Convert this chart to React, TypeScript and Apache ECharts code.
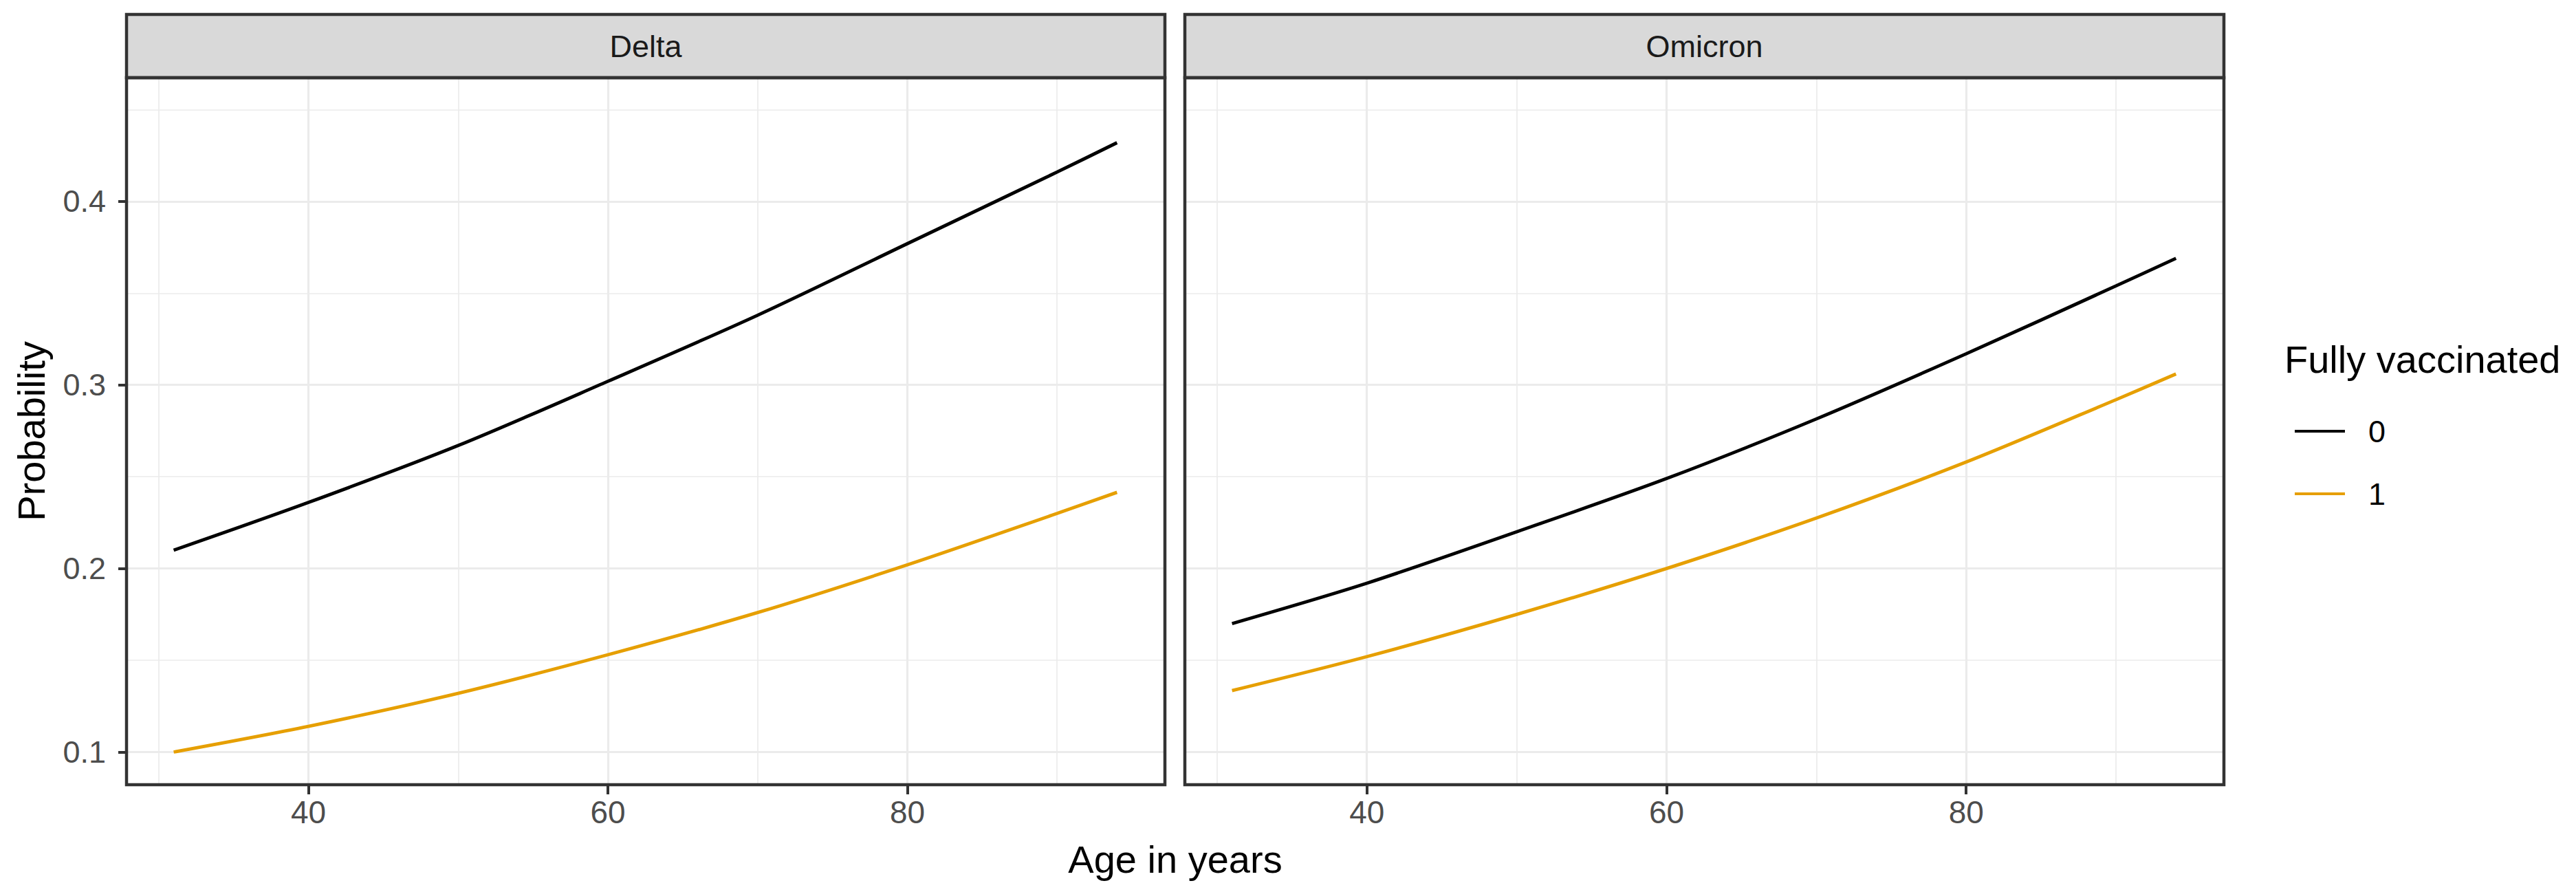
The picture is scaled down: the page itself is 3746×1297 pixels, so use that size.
import React, { useEffect, useRef } from "react";
import * as echarts from "echarts";

// ---- data ----
const ages = [31, 40, 50, 60, 70, 80, 90, 94];
const panels = ["Delta", "Omicron"];
const groups = ["0", "1"];
const deltaUnvaccinated = [0.21, 0.236, 0.267, 0.302, 0.338, 0.377, 0.416, 0.432];
const deltaVaccinated = [0.1, 0.114, 0.132, 0.153, 0.176, 0.202, 0.23, 0.2415];
const omicronUnvaccinated = [0.17, 0.192, 0.22, 0.249, 0.2815, 0.317, 0.354, 0.369];
const omicronVaccinated = [0.1335, 0.152, 0.175, 0.2, 0.2275, 0.258, 0.292, 0.306];
const xTicks = [40, 60, 80];
const xMinor = [30, 50, 70, 90];
const yTicks = [0.1, 0.2, 0.3, 0.4];
const yMinor = [0.15, 0.25, 0.35, 0.45];

const colors = ["#000000", "#E69F00"];
const FONT = "Liberation Sans, Arial, Helvetica, sans-serif";

export default function App() {
  const ref = useRef<HTMLDivElement>(null);
  useEffect(() => {
    if (!ref.current) return;
    const chart = echarts.init(ref.current, null, { renderer: "svg" });

    const PT = 113;
    const PH = 1028;
    const panelBoxes = [
      { left: 184, width: 1510 },
      { left: 1723, width: 1511 },
    ];
    const STRIP_TOP = 21;

    const seriesData = [
      [deltaUnvaccinated, deltaVaccinated],
      [omicronUnvaccinated, omicronVaccinated],
    ];

    const grid = panelBoxes.map((b) => ({
      left: b.left,
      top: PT,
      width: b.width,
      height: PH,
      show: false,
      containLabel: false,
    }));

    const xAxis = panelBoxes.map((_, i) => ({
      type: "value",
      gridIndex: i,
      min: 27.85,
      max: 97.2,
      axisLine: { show: false },
      splitLine: { show: false },
      axisTick: {
        show: true,
        customValues: xTicks,
        length: 14,
        lineStyle: { color: "#333333", width: 4 },
      },
      axisLabel: {
        show: true,
        customValues: xTicks,
        margin: 17,
        fontSize: 46,
        color: "#4D4D4D",
        fontFamily: FONT,
      },
    }));

    const yAxis = panelBoxes.map((_, i) => ({
      type: "value",
      gridIndex: i,
      min: 0.0822,
      max: 0.4674,
      axisLine: { show: false },
      splitLine: { show: false },
      axisTick: {
        show: i === 0,
        customValues: yTicks,
        length: 12,
        lineStyle: { color: "#333333", width: 4 },
      },
      axisLabel: {
        show: i === 0,
        customValues: yTicks,
        margin: 30,
        fontSize: 45,
        color: "#4D4D4D",
        fontFamily: FONT,
        formatter: (v: number) => v.toFixed(1),
      },
    }));

    const gridLines = () => {
      const d: any[] = [];
      xMinor.forEach((v) => d.push({ xAxis: v, lineStyle: { width: 1.7, color: "#EBEBEB", type: "solid" } }));
      yMinor.forEach((v) => d.push({ yAxis: v, lineStyle: { width: 1.7, color: "#EBEBEB", type: "solid" } }));
      xTicks.forEach((v) => d.push({ xAxis: v, lineStyle: { width: 3.2, color: "#EBEBEB", type: "solid" } }));
      yTicks.forEach((v) => d.push({ yAxis: v, lineStyle: { width: 3.2, color: "#EBEBEB", type: "solid" } }));
      return d;
    };

    const series: any[] = [];
    panelBoxes.forEach((_, i) => {
      series.push({
        type: "line",
        name: "grid" + i,
        xAxisIndex: i,
        yAxisIndex: i,
        data: ages.map((a, k) => [a, seriesData[i][0][k]]),
        symbol: "none",
        lineStyle: { opacity: 0 },
        silent: true,
        z: 1,
        legendHoverLink: false,
        markLine: {
          silent: true,
          symbol: ["none", "none"],
          label: { show: false },
          animation: false,
          data: gridLines(),
        },
      });
      groups.forEach((g, j) => {
        series.push({
          type: "line",
          name: g,
          xAxisIndex: i,
          yAxisIndex: i,
          data: ages.map((a, k) => [a, seriesData[i][j][k]]),
          symbol: "none",
          smooth: 0.3,
          lineStyle: { color: colors[j], width: 4.8 },
          itemStyle: { color: colors[j] },
          z: 5,
        });
      });
    });

    const graphic: any[] = [];
    panelBoxes.forEach((b, i) => {
      graphic.push({
        type: "rect",
        shape: { x: b.left, y: STRIP_TOP, width: b.width, height: PT - STRIP_TOP },
        style: { fill: "#D9D9D9", stroke: "#333333", lineWidth: 4.5 },
        z: 100,
      });
      graphic.push({
        type: "rect",
        shape: { x: b.left, y: PT, width: b.width, height: PH },
        style: { fill: "none", stroke: "#333333", lineWidth: 4.5 },
        z: 100,
      });
      graphic.push({
        type: "text",
        x: b.left + b.width / 2,
        y: (STRIP_TOP + PT) / 2,
        style: {
          text: panels[i],
          fontSize: 45,
          fontFamily: FONT,
          fill: "#1A1A1A",
          align: "center",
          verticalAlign: "middle",
        },
        z: 101,
      });
    });
    graphic.push({
      type: "text",
      x: (184 + 3234) / 2,
      y: 1249,
      style: {
        text: "Age in years",
        fontSize: 56,
        fontFamily: FONT,
        fill: "#000000",
        align: "center",
        verticalAlign: "middle",
      },
    });
    graphic.push({
      type: "text",
      x: 45,
      y: PT + PH / 2,
      rotation: Math.PI / 2,
      style: {
        text: "Probability",
        fontSize: 56,
        fontFamily: FONT,
        fill: "#000000",
        align: "center",
        verticalAlign: "middle",
      },
    });
    graphic.push({
      type: "text",
      x: 3322,
      y: 522,
      style: {
        text: "Fully vaccinated",
        fontSize: 56,
        fontFamily: FONT,
        fill: "#000000",
        align: "left",
        verticalAlign: "middle",
      },
    });

    chart.setOption({
      animation: false,
      backgroundColor: "#FFFFFF",
      grid,
      xAxis,
      yAxis,
      series,
      graphic,
      legend: {
        data: groups,
        orient: "vertical",
        left: 3330,
        top: 597,
        itemWidth: 73,
        itemHeight: 20,
        itemGap: 41,
        selectedMode: false,
        itemStyle: { opacity: 0 },
        lineStyle: { width: 4 },
        textStyle: {
          fontSize: 45,
          lineHeight: 50,
          color: "#000000",
          fontFamily: FONT,
          padding: [0, 0, 0, 29],
        },
      },
    });
    return () => chart.dispose();
  }, []);
  return (
    <div
      ref={ref}
      style={{ position: "fixed", left: 0, top: 0, width: 3746, height: 1297, background: "#fff" }}
    />
  );
}
